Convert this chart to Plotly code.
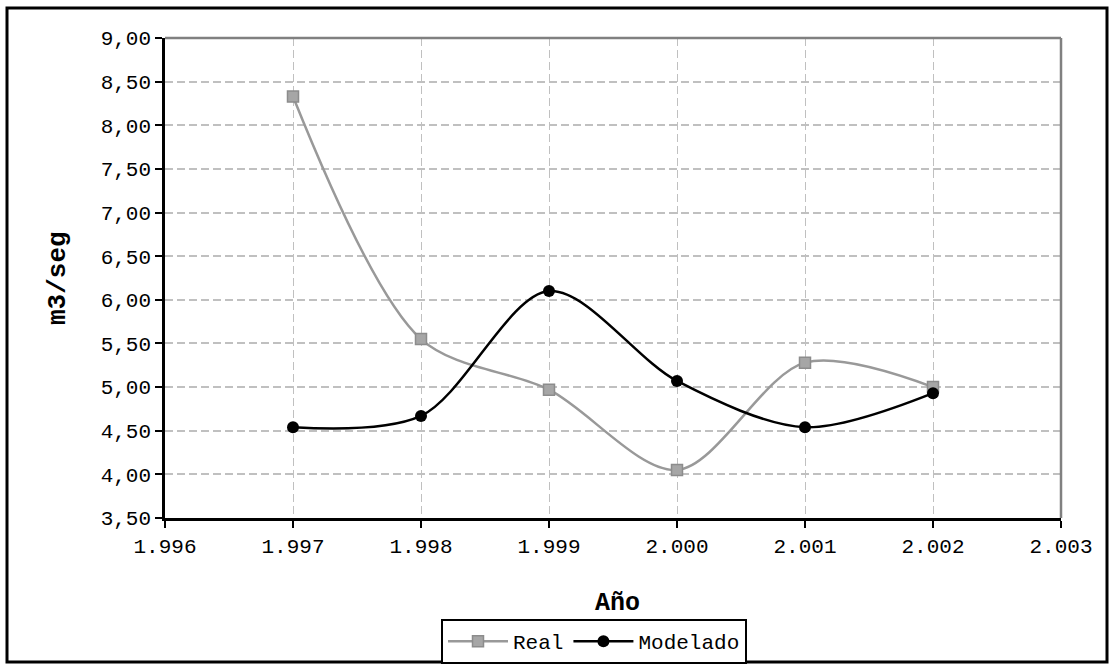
import plotly.graph_objects as go

years = [1997, 1998, 1999, 2000, 2001, 2002]
real = [8.33, 5.55, 4.97, 4.05, 5.28, 5.00]
modelado = [4.54, 4.67, 6.10, 5.07, 4.54, 4.93]

FONT = "Courier New, Liberation Mono, monospace"

fig = go.Figure()
fig.add_trace(go.Scatter(
    x=years, y=real, name="Real", mode="lines+markers",
    line=dict(color="#999999", width=2.5, shape="spline", smoothing=0.9),
    marker=dict(symbol="square", size=11, color="#a6a6a6",
                line=dict(color="#8c8c8c", width=1.5)),
))
fig.add_trace(go.Scatter(
    x=years, y=modelado, name="Modelado", mode="lines+markers",
    line=dict(color="#000000", width=2.5, shape="spline", smoothing=0.9),
    marker=dict(symbol="circle", size=12, color="#000000"),
))

# plot area: x 165..1061, y 38..518
L, R, T, B = 165, 1061, 38, 518
W, H = 1110, 664
pw, ph = R - L, B - T

def px(x):
    return (x - L) / pw

def py(y):
    return (B - y) / ph

shapes = [
    dict(type="rect", xref="paper", yref="paper",
         x0=px(7), x1=px(1107), y0=py(662), y1=py(8),
         line=dict(color="black", width=3), layer="below"),
    dict(type="line", xref="paper", yref="paper", x0=0, x1=1, y0=1, y1=1,
         line=dict(color="#808080", width=2.5)),
    dict(type="line", xref="paper", yref="paper", x0=1, x1=1, y0=0, y1=1,
         line=dict(color="#808080", width=2.5)),
]

fig.update_layout(
    width=W, height=H,
    margin=dict(l=L, r=W - R, t=T, b=H - B, autoexpand=False),
    paper_bgcolor="white", plot_bgcolor="white",
    separators=",.",
    font=dict(family=FONT, size=21, color="black"),
    showlegend=True,
    legend=dict(orientation="h", x=px(594), y=py(619), xanchor="center", yanchor="top",
                bordercolor="black", borderwidth=2, bgcolor="white",
                font=dict(family=FONT, size=21), itemwidth=60,
                tracegroupgap=0),
    shapes=shapes,
    annotations=[
        dict(text="<b>Año</b>", xref="paper", yref="paper", x=px(617), y=py(603),
             xanchor="center", yanchor="middle", showarrow=False,
             font=dict(family=FONT, size=25)),
        dict(text="<b>m3/seg</b>", xref="paper", yref="paper", x=px(58), y=py(278),
             xanchor="center", yanchor="middle", showarrow=False, textangle=-90,
             font=dict(family=FONT, size=26)),
    ],
)

fig.update_xaxes(
    range=[1996, 2003], dtick=1, tick0=1996,
    tickformat=",d", separatethousands=True,
    showline=True, linecolor="black", linewidth=2.5,
    ticks="outside", ticklen=7, tickwidth=2, tickcolor="black",
    showgrid=True, gridcolor="#c0c0c0", gridwidth=1, griddash="8px,4px",
    zeroline=False, tickfont=dict(family=FONT, size=21),
)
fig.update_yaxes(
    range=[3.5, 9.0], dtick=0.5, tick0=3.5,
    tickformat=".2f",
    showline=True, linecolor="black", linewidth=2.5,
    ticks="outside", ticklen=7, tickwidth=2, tickcolor="black",
    showgrid=True, gridcolor="#c0c0c0", gridwidth=1.5, griddash="8px,4px",
    zeroline=False, tickfont=dict(family=FONT, size=21),
)

fig.write_html("out.html")
